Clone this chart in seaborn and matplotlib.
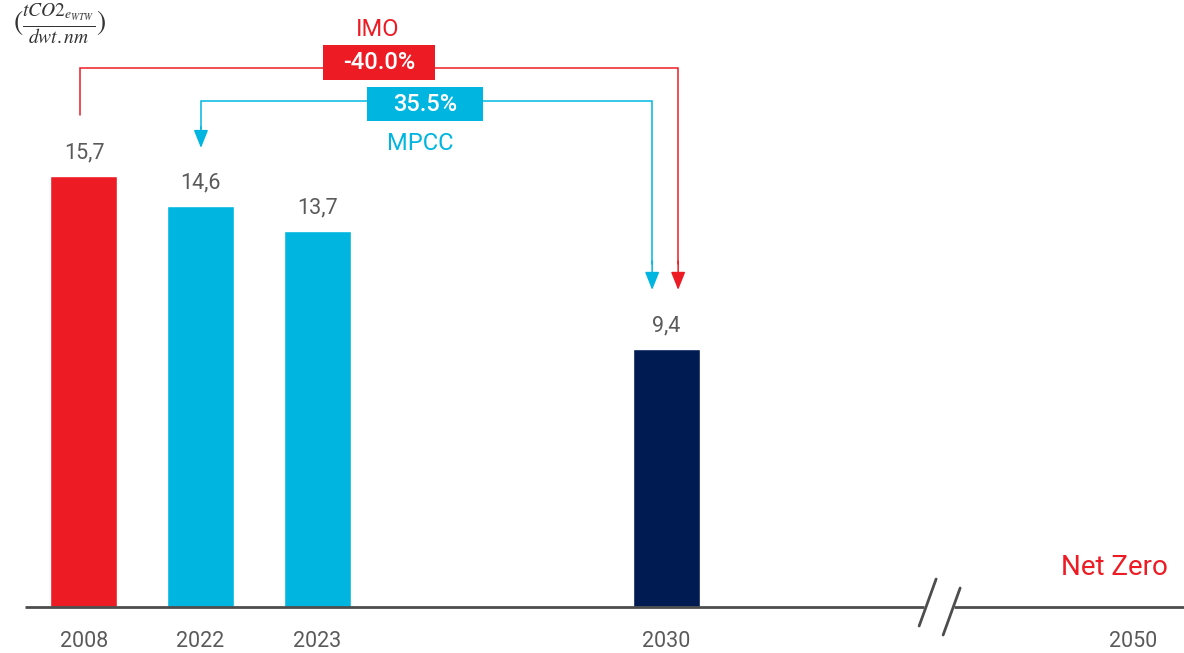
import matplotlib
matplotlib.use("Agg")
import matplotlib.pyplot as plt
import seaborn as sns
import pandas as pd
from matplotlib.patches import Rectangle

# ---- data ----
years = ["2008", "2022", "2023", "2030"]
values = [15.7, 14.6, 13.7, 9.4]
bar_colors = ["#ED1C24", "#00B6E0", "#00B6E0", "#001B52"]
tick_years = ["2008", "2022", "2023", "2030", "2050"]
imo_label = "IMO"
imo_pct = "-40.0%"
mpcc_label = "MPCC"
mpcc_pct = "35.5%"
netzero_label = "Net Zero"

# layout slots on the x axis (gap before 2030, axis break before 2050)
slot = {"2008": 0, "2022": 1, "2023": 2, "2030": 5, "2050": 9}

RED = "#ED1C24"
CYAN = "#00B6E0"
GRAY = "#5a5a5a"
AXIS = "#4d4d4d"

sns.set_theme(style="white")
plt.rcParams["font.family"] = ["Roboto", "DejaVu Sans"]
plt.rcParams["mathtext.fontset"] = "stix"

df = pd.DataFrame({"year": years, "value": values,
                   "pos": [slot[y] for y in years]})

fig = plt.figure(figsize=(11.84, 6.53), dpi=100)
ax = fig.add_axes([25 / 1184, 46 / 653, 1159 / 1184, 607 / 653])

sns.barplot(data=df, x="pos", y="value", hue="year",
            palette=dict(zip(years, bar_colors)), native_scale=True,
            width=0.575, legend=False, saturation=1, ax=ax)

ax.set_xlim(-0.506, 9.44)
ax.set_ylim(0, 22.11)
for s in ax.spines.values():
    s.set_visible(False)
ax.set_yticks([])
ax.set_xticks([slot[y] for y in tick_years])
ax.set_xticklabels(tick_years, fontsize=15.5, color=GRAY)
ax.tick_params(axis="x", length=0, pad=17)
ax.set_xlabel("")
ax.set_ylabel("")

# value labels
for cont in ax.containers:
    ax.bar_label(cont, labels=[f"{b.get_height():.1f}".replace(".", ",") for b in cont],
                 padding=9, fontsize=15.5, color=GRAY)

# broken baseline
ax.plot([-0.506, 7.21], [0, 0], color=AXIS, lw=2, clip_on=False, solid_capstyle="butt")
ax.plot([7.468, 9.44], [0, 0], color=AXIS, lw=2, clip_on=False, solid_capstyle="butt")
ax.plot([7.167, 7.313], [-0.692, 1.02], color=AXIS, lw=2, clip_on=False)
ax.plot([7.373, 7.519], [-1.02, 0.692], color=AXIS, lw=2, clip_on=False)

# IMO connector (red)
ax.plot([-0.034, -0.034, 5.099, 5.099], [17.92, 19.64, 19.64, 12.5],
        color=RED, lw=1.1, solid_joinstyle="miter")
ax.annotate("", xy=(5.099, 11.55), xytext=(5.099, 12.6),
            arrowprops=dict(arrowstyle="-|>,head_width=0.4,head_length=1.0",
                            mutation_scale=11, color=RED, lw=1.1,
                            shrinkA=0, shrinkB=0))
ax.add_patch(Rectangle((2.052, 19.20), 3.013 - 2.052, 20.47 - 19.20,
                       facecolor=RED, edgecolor="none", zorder=3))
ax.text((2.052 + 3.013) / 2, 19.835, imo_pct, ha="center", va="center",
        color="white", fontsize=17, fontweight="medium", zorder=4)
ax.text(2.524, 21.02, imo_label, ha="center", va="center", color=RED, fontsize=17)

# MPCC connector (cyan)
ax.plot([1.004, 1.004, 4.876, 4.876], [17.4, 18.43, 18.43, 12.5],
        color=CYAN, lw=1.1, solid_joinstyle="miter")
ax.annotate("", xy=(1.004, 16.72), xytext=(1.004, 17.5),
            arrowprops=dict(arrowstyle="-|>,head_width=0.4,head_length=1.0",
                            mutation_scale=11, color=CYAN, lw=1.1,
                            shrinkA=0, shrinkB=0))
ax.annotate("", xy=(4.876, 11.55), xytext=(4.876, 12.6),
            arrowprops=dict(arrowstyle="-|>,head_width=0.4,head_length=1.0",
                            mutation_scale=11, color=CYAN, lw=1.1,
                            shrinkA=0, shrinkB=0))
ax.add_patch(Rectangle((2.429, 17.70), 3.425 - 2.429, 18.94 - 17.70,
                       facecolor=CYAN, edgecolor="none", zorder=3))
ax.text((2.429 + 3.425) / 2, 18.32, mpcc_pct, ha="center", va="center",
        color="white", fontsize=17, fontweight="medium", zorder=4)
ax.text(2.884, 16.90, mpcc_label, ha="center", va="center", color=CYAN, fontsize=17)

# Net Zero
ax.text((1168 - 84) / 116.5, (607 - 568) / 27.45, netzero_label,
        ha="right", va="center", color=RED, fontsize=20)

# unit label
fig.text(60 / 1184, 1 - 24 / 653, r"$(\frac{tCO2_{e_{WTW}}}{dwt.nm})$",
         ha="center", va="center", fontsize=20, color="#333333")

fig.savefig("out.png", dpi=100)
